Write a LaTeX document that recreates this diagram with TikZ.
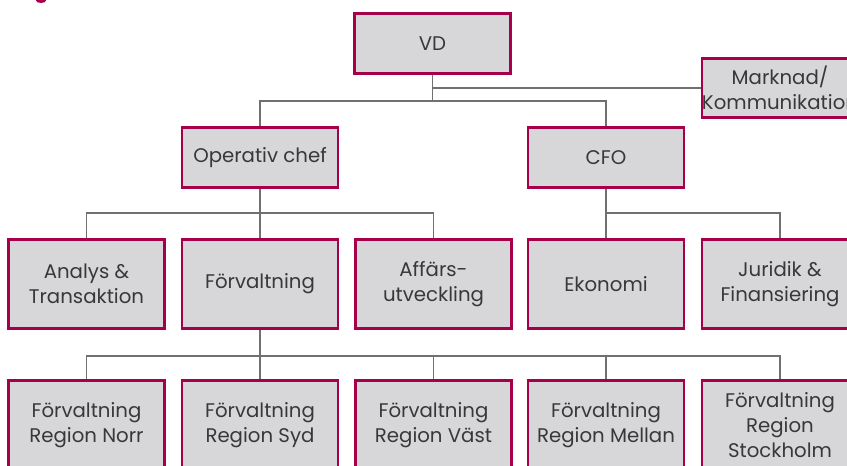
\documentclass[tikz,border=0pt]{standalone}
\usepackage{fontspec}
\setmainfont{Poppins}
\definecolor{boxred}{HTML}{A6004A}
\definecolor{boxfill}{HTML}{D7D7D9}
\definecolor{linegray}{HTML}{707070}
\definecolor{txt}{HTML}{383838}
\tikzset{
  orgbox/.style={draw=boxred, line width=2.2pt, fill=boxfill, inner sep=0pt,
    minimum width=117pt, align=center, text=txt,
    font=\fontsize{14.8}{18.75}\selectfont},
  row1/.style={orgbox, minimum height=44.5pt},
  row2/.style={orgbox, minimum height=67pt},
  conn/.style={draw=linegray, line width=1.1pt}
}
\begin{document}
\begin{tikzpicture}[x=0.75pt,y=-0.75pt]
\useasboundingbox (0,0) rectangle (847,465);
\fill[boxred] (41,0.5) ellipse [x radius=5, y radius=2.5];
% coordinates of the buses
\coordinate (b1) at (432.5,101);
\coordinate (b2) at (260,213);
\coordinate (b3) at (606,213);
\coordinate (b4) at (260,356);
% top
\node[row1] (vd) at (432.5,43.5) {VD};
\node[orgbox, minimum height=44pt] (mk) at (780,88) {Marknad/\\Kommunikation};
\node[row1] (op) at (260,157.5) {Operativ chef};
\node[row1] (cfo) at (606,157.5) {CFO};
% row 2
\node[row2] (an) at (86.5,284) {Analys \&\\Transaktion};
\node[row2] (fv) at (260,284) {Förvaltning};
\node[row2] (af) at (433.5,284) {Affärs-\\utveckling};
\node[row2] (ek) at (606,284) {Ekonomi};
\node[row2] (ju) at (780,284) {Juridik \&\\Finansiering};
% row 3
\node[row2] (rn) at (86.5,425) {Förvaltning\\Region Norr};
\node[row2] (rs) at (260,425) {Förvaltning\\Region Syd};
\node[row2] (rv) at (433.5,425) {Förvaltning\\Region Väst};
\node[row2] (rm) at (606,425) {Förvaltning\\Region Mellan};
\node[row2] (rk) at (780,425) {Förvaltning\\Region\\Stockholm};
% connectors
\draw[conn] (vd.south) -- (b1);
\draw[conn] (vd.south |- mk.west) -- (mk.west);
\draw[conn] (op.north) |- (b1) -| (cfo.north);
\draw[conn] (op.south) -- (b2);
\draw[conn] (an.north) |- (b2) -| (af.north);
\draw[conn] (b2) -- (fv.north);
\draw[conn] (cfo.south) -- (b3);
\draw[conn] (ek.north) -- (b3) -| (ju.north);
\draw[conn] (fv.south) -- (b4);
\draw[conn] (rn.north) |- (b4) -| (rk.north);
\draw[conn] (rs.north) -- (b4);
\draw[conn] (rv.north) -- (rv.north |- b4);
\draw[conn] (rm.north) -- (rm.north |- b4);
\end{tikzpicture}
\end{document}
